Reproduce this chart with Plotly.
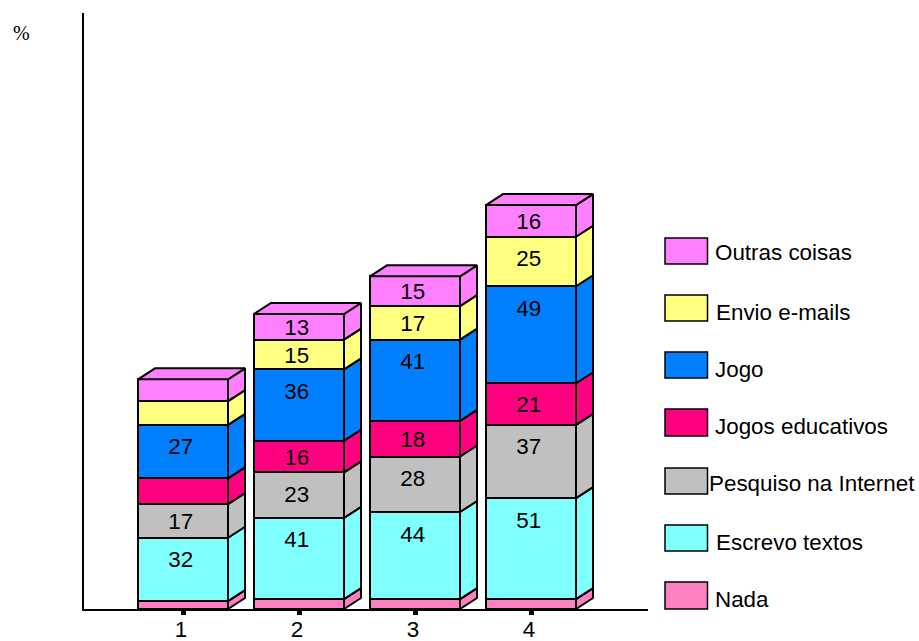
import plotly.graph_objects as go

categories = [1, 2, 3, 4]
series_names = ["Nada", "Escrevo textos", "Pesquiso na Internet", "Jogos educativos",
                "Jogo", "Envio e-mails", "Outras coisas"]
nada = [4, 5, 5, 5]
escrevo = [32, 41, 44, 51]
pesquiso = [17, 23, 28, 37]
educativos = [13, 16, 18, 21]
jogo = [27, 36, 41, 49]
envio = [12, 15, 17, 25]
outras = [11, 13, 15, 16]
colors = ["#FF80C0", "#80FFFF", "#C0C0C0", "#FF0080", "#0080FF", "#FFFF80", "#FF80FF"]
# Which values the original chart prints
labels = [
    [None, None, None, None],
    ["32", "41", "44", "51"],
    ["17", "23", "28", "37"],
    [None, "16", "18", "21"],
    ["27", "36", "41", "49"],
    [None, "15", "17", "25"],
    [None, "13", "15", "16"],
]
series = [nada, escrevo, pesquiso, educativos, jogo, envio, outras]

W, H = 919, 641
L, R, T, B = 84, 648, 13, 609
YMAX = 301.0
XMIN = 1 - (183 - L) / 116
XMAX = 1 + (R - 183) / 116
BAR_W = 90 / 116
DX = 17 / 116
DY = 11 * YMAX / (B - T)
FONT = "Liberation Sans"
FS = 22.4


def px(x):
    return (x - L) / (R - L)


def py(y):
    return (B - y) / (B - T)


fig = go.Figure()

for name, vals, col in zip(series_names, series, colors):
    fig.add_trace(go.Bar(x=categories, y=vals, name=name, width=BAR_W,
                         marker=dict(color=col, line=dict(color="black", width=2)),
                         showlegend=False, hoverinfo="skip"))

# depth faces and value labels derived from the stacked values
for i, c in enumerate(categories):
    base = 0
    for s, (name, vals, col) in enumerate(zip(series_names, series, colors)):
        top = base + vals[i]
        xr = c + BAR_W / 2
        fig.add_trace(go.Scatter(
            x=[xr, xr + DX, xr + DX, xr, xr],
            y=[base, base + DY, top + DY, top, base],
            mode="lines", fill="toself", fillcolor=col,
            line=dict(color="black", width=2), showlegend=False, hoverinfo="skip"))
        if s == len(series) - 1:
            xl = c - BAR_W / 2
            fig.add_trace(go.Scatter(
                x=[xl, xl + DX, xr + DX, xr, xl],
                y=[top, top + DY, top + DY, top, top],
                mode="lines", fill="toself", fillcolor=col,
                line=dict(color="black", width=2), showlegend=False, hoverinfo="skip"))
        if labels[s][i] is not None:
            drop = min(vals[i] / 2 + 1.2, 12.1)
            fig.add_trace(go.Scatter(
                x=[c - 0.02], y=[top - drop], mode="text", text=[labels[s][i]],
                textposition="middle center",
                textfont=dict(family=FONT, size=FS, color="black"),
                showlegend=False, hoverinfo="skip"))
        base = top

# hand-drawn legend, as in the original
leg_rows = [
    ("Outras coisas", "#FF80FF", 238, 264, 714, 253),
    ("Envio e-mails", "#FFFF80", 295, 321, 715, 312),
    ("Jogo", "#0080FF", 352, 378, 714, 369),
    ("Jogos educativos", "#FF0080", 409, 436, 714, 426),
    ("Pesquiso na Internet", "#C0C0C0", 468, 494, 708, 484),
    ("Escrevo textos", "#80FFFF", 525, 551, 715, 542),
    ("Nada", "#FF80C0", 582, 609, 714, 599),
]
shapes, annotations = [], []
for text, col, y0, y1, tx, ty in leg_rows:
    shapes.append(dict(type="rect", xref="paper", yref="paper",
                       x0=px(665), x1=px(707.5), y0=py(y1), y1=py(y0),
                       fillcolor=col, line=dict(color="black", width=1.5)))
    annotations.append(dict(text=text, xref="paper", yref="paper", x=px(tx), y=py(ty),
                            xanchor="left", yanchor="middle", showarrow=False,
                            borderpad=0, font=dict(family=FONT, size=FS, color="black")))
annotations.append(dict(text="%", xref="paper", yref="paper", x=px(21), y=py(33),
                        xanchor="center", yanchor="middle", showarrow=False,
                        font=dict(family="Liberation Serif", size=20, color="black")))

fig.update_layout(
    width=W, height=H, barmode="stack", bargap=0.2,
    margin=dict(l=L, r=W - R, t=T, b=H - B, pad=0, autoexpand=False),
    paper_bgcolor="white", plot_bgcolor="white",
    showlegend=False, shapes=shapes, annotations=annotations,
    font=dict(family=FONT, size=FS, color="black"),
    xaxis=dict(range=[XMIN, XMAX], tickmode="array", tickvals=categories,
               ticktext=[str(c) for c in categories], ticks="outside", ticklen=4, tickwidth=5,
               tickcolor="black", showgrid=False, zeroline=False, showline=True,
               linecolor="black", linewidth=1.5, ticklabelshift=-2, ticklabelstandoff=-5,
               automargin=False,
               tickfont=dict(family=FONT, size=FS, color="black")),
    yaxis=dict(range=[0, YMAX], showticklabels=False, ticks="", showgrid=False,
               zeroline=False, showline=True, linecolor="black", linewidth=2, automargin=False),
)

fig.write_html("out.html", config={"displayModeBar": False},
               post_script="document.body.style.margin='0';document.body.style.overflow='hidden';")
